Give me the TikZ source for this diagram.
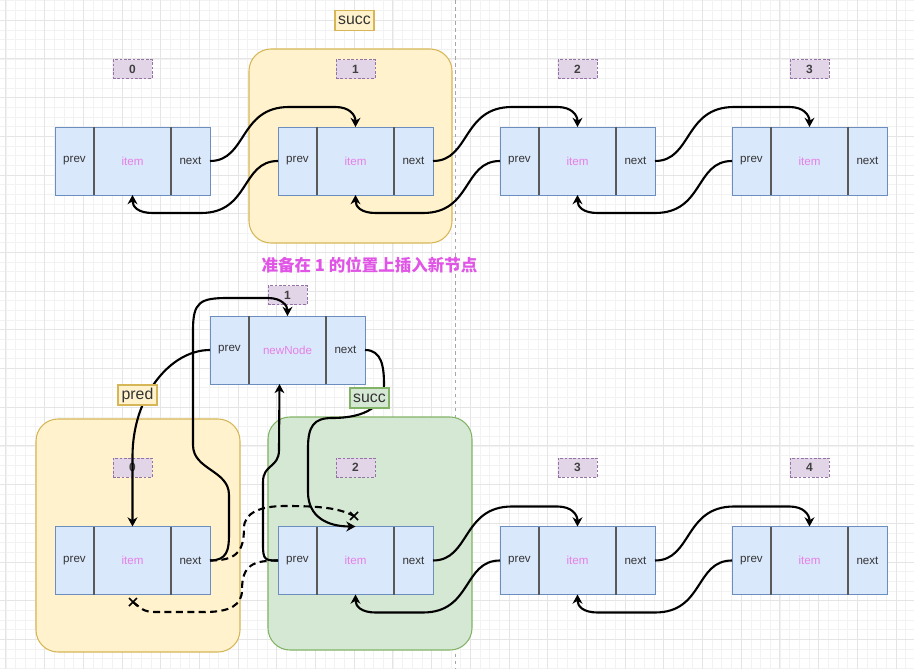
\documentclass[tikz,border=0pt]{standalone}
\usepackage{fontspec}
\setmainfont{Liberation Sans}
\newfontfamily\cjk{Noto Sans CJK SC}
\usetikzlibrary{positioning,calc,arrows.meta,shapes.misc}
\newdimen\pxu
\pxu=0.02cm
\definecolor{cellfill}{HTML}{DAE8FC}
\definecolor{cellline}{HTML}{6C8EBF}
\definecolor{idxfill}{HTML}{E1D5E7}
\definecolor{idxline}{HTML}{9673A6}
\definecolor{ylwfill}{HTML}{FFF2CC}
\definecolor{ylwline}{HTML}{D6B656}
\definecolor{grnfill}{HTML}{D5E8D4}
\definecolor{grnline}{HTML}{82B366}
\definecolor{itemtxt}{HTML}{E67FE6}
\definecolor{hinttxt}{HTML}{E055E6}
\tikzset{llcell/.style={draw=cellline, fill=cellfill, line width=0.5pt,
        outer sep=0pt, inner sep=0pt, minimum height=68\pxu,
        font=\fontsize{6.6}{7}\selectfont, text=black!80},
    sidecell/.style={llcell, minimum width=39\pxu},
    itemcell/.style={llcell, minimum width=77\pxu, text=itemtxt},
    divider/.style={draw=black!65, line width=0.7pt},
    idx/.style={draw=idxline, fill=idxfill, dash pattern=on 1.5pt off 1pt,
        minimum width=39\pxu, minimum height=19\pxu, inner sep=0pt,
        font=\fontsize{6.8}{7}\selectfont\bfseries, text=black!75},
    grp/.style={line width=0.6pt, rounded corners=22\pxu,
        minimum width=204\pxu, minimum height=233\pxu},
    ygroup/.style={grp, draw=ylwline, fill=ylwfill},
    ggroup/.style={grp, draw=grnline, fill=grnfill},
    tag/.style={line width=0.8pt, inner sep=0pt, minimum width=39\pxu,
        minimum height=20\pxu, font=\fontsize{9}{10}\selectfont, text=black!80},
    tagy/.style={tag, draw=ylwline, fill=ylwfill},
    tagg/.style={tag, draw=grnline, fill=grnfill},
    hint/.style={font=\cjk\bfseries\fontsize{9.4}{11}\selectfont, text=hinttxt},
    link/.style={-{Stealth[length=5.2pt,width=5.6pt,inset=1.6pt]}, line width=1.2pt},
    cutlink/.style={line width=1.2pt, dash pattern=on 4pt off 2.5pt},
    xmark/.style={cross out, draw, line width=1pt, minimum size=8\pxu,
        inner sep=0pt, outer sep=0pt},
    gridminor/.style={draw=black!5, line width=0.3pt},
    gridmajor/.style={draw=black!10, line width=0.4pt},
    pagebreak/.style={draw=black!35, line width=0.4pt, dash pattern=on 2pt off 2pt},
    }
% one list node: prev | item | next
\newcommand\llnode[3]{%
    \node[itemcell] (#1-i) at (#2) {#3};
    \node[sidecell, left=0pt of #1-i] (#1-p) {prev};
    \node[sidecell, right=0pt of #1-i] (#1-n) {next};
    \draw[divider] (#1-i.north west) -- (#1-i.south west)
        (#1-i.north east) -- (#1-i.south east);}
% next of #1 -> item of #2
\newcommand\fwd[2]{\draw[link] (#1-n.east) .. controls +(37,0) and +(-50,0) .. ($(#1-n.east)+(79,-54)$)
    -- ($(#2-i.north)+(-20,-20)$) .. controls +(14,0) and +(0,-12) .. (#2-i.north);}
% prev of #1 -> item of #2
\newcommand\bwd[2]{\draw[link] (#1-p.west) .. controls +(-37,0) and +(49,0) .. ($(#1-p.west)+(-77,52)$)
    -- ($(#2-i.south)+(20,18)$) .. controls +(-14,0) and +(0,12) .. (#2-i.south);}

\begin{document}
\begin{tikzpicture}[x=0.02cm,y=-0.02cm]
	\useasboundingbox (0,0) rectangle (914,669);
	\clip (0,0) rectangle (914,669);
	\fill[white] (0,0) rectangle (914,669);
	\foreach \k in {-1,...,94} \draw[gridminor] ({5.8+9.675*\k},0) -- ++(0,669);
	\foreach \k in {-3,...,67} \draw[gridminor] (0,{20.1+9.675*\k}) -- ++(914,0);
	\foreach \k in {0,...,23} \draw[gridmajor] ({5.8+38.7*\k},0) -- ++(0,669);
	\foreach \k in {-1,...,16} \draw[gridmajor] (0,{20.1+38.7*\k}) -- ++(914,0);
	\draw[pagebreak] (455,0) -- (455,669);

	% before
	\node[ygroup, minimum width=203\pxu, minimum height=194\pxu] (g1) at (350.5,146) {};
	\node[tagy] (succ1) at (354.5,20.5) {succ};
	\llnode{t0}{132.5,161}{item}
	\llnode{t1}{355.5,161}{item}
	\llnode{t2}{577.5,161}{item}
	\llnode{t3}{809.5,161}{item}
	\node[idx, above=48\pxu of t0-i] (t0-x) {0};
	\node[idx, above=48\pxu of t1-i] (t1-x) {1};
	\node[idx, above=48\pxu of t2-i] (t2-x) {2};
	\node[idx, above=48\pxu of t3-i] (t3-x) {3};
	\fwd{t0}{t1} \fwd{t1}{t2} \fwd{t2}{t3}
	\bwd{t1}{t0} \bwd{t2}{t1} \bwd{t3}{t2}

	\node[hint] (hint) at (369.5,265) {准备在 1 的位置上插入新节点};

	% after
	\node[ygroup] (g0) at (138,535.5) {};
	\node[ggroup] (g2) at (370,533.5) {};
	\llnode{nn}{287.5,350}{newNode}
	\llnode{b0}{132.5,560.5}{item}
	\llnode{b2}{355.5,560.5}{item}
	\llnode{b3}{577.5,560.5}{item}
	\llnode{b4}{809.5,560.5}{item}
	\node[idx, above=11\pxu of nn-i] (nn-x) {1};
	\node[idx, above=49\pxu of b0-i] (b0-x) {0};
	\node[idx, above=49\pxu of b2-i] (b2-x) {2};
	\node[idx, above=49\pxu of b3-i] (b3-x) {3};
	\node[idx, above=49\pxu of b4-i] (b4-x) {4};
	\fwd{b2}{b3} \fwd{b3}{b4}
	\bwd{b3}{b2} \bwd{b4}{b3}

	\draw[link] (nn-p.west) .. controls +(-40,0) and +(0,-60) .. ($(b0-i.north)+(0,-70)$) -- (b0-i.north);
	\draw[link] (b0-n.east) .. controls +(17,0) and +(0,15) .. (229,535) -- (229,495)
		.. controls +(0,-25) and +(0,25) .. (193,445) -- (193,330)
		.. controls +(0,-28) and +(-28,0) .. (228,298) -- (268,298)
		.. controls +(14,0) and +(0,-10) .. (nn-i.north);
	\draw[link] (b2-p.west) .. controls +(-13,0) and +(0,15) .. (263,545) -- (263,482)
		.. controls +(0,-18) and +(0,18) .. (279,450) -- ([xshift=-8\pxu]nn-i.south);
	\draw[link] (nn-n.east) .. controls +(17,0) and +(0,-18) .. (384,385)
		.. controls +(0,20) and +(35,0) .. (332,418)
		.. controls +(-18,0) and +(0,-22) .. (308,448) -- (308,492)
		.. controls +(0,25) and +(-28,0) .. (b2-i.north);

	\node[xmark] (xa) at (354,516) {};
	\node[xmark] (xb) at (133,602) {};
	\draw[cutlink] (b0-n.east) .. controls +(25,0) and +(0,25) .. (244,528)
		.. controls +(0,-15) and +(-25,0) .. (285,506)
		.. controls +(35,0) and +(-15,-8) .. (xa.center);
	\draw[cutlink] (b2-p.west) .. controls +(-25,0) and +(0,-25) .. (242,590)
		.. controls +(0,15) and +(25,0) .. (205,612) -- (155,612)
		.. controls +(-12,0) and +(8,6) .. (xb.center);

	\node[tagy] (pred) at (137.5,395) {pred};
	\node[tagg] (succ2) at (369.5,398) {succ};
\end{tikzpicture}
\end{document}
